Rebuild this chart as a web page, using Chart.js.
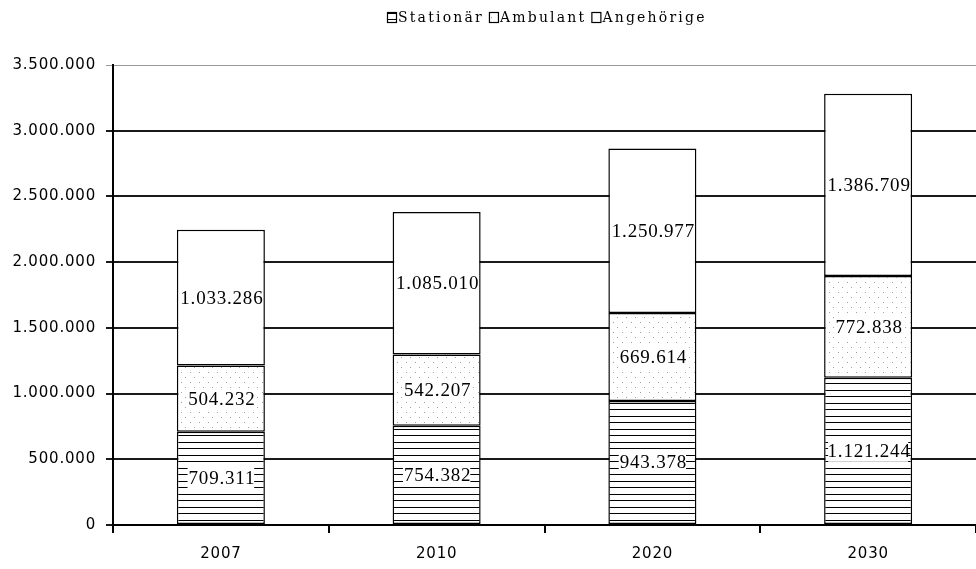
<!DOCTYPE html>
<html>
<head>
<meta charset="utf-8">
<script src="https://cdn.jsdelivr.net/npm/chart.js@4.4.1/dist/chart.umd.min.js"></script>
<style>
  html, body { margin: 0; padding: 0; background: #fff; }
  #wrap { width: 976px; height: 569px; }
</style>
</head>
<body>
<div id="wrap"><canvas id="chart" width="976" height="569"></canvas></div>
<script>
const years = ["2007", "2010", "2020", "2030"];
const seriesNames = ["Stationär", "Ambulant", "Angehörige"];
const stationaer = [709311, 754382, 943378, 1121244];
const ambulant = [504232, 542207, 669614, 772838];
const angehoerige = [1033286, 1085010, 1250977, 1386709];
const yMax = 3500000;
const yStep = 500000;

// German number format: 1.234.567
function fmt(v) {
  return String(Math.round(v)).replace(/\B(?=(\d{3})+(?!\d))/g, ".");
}

function makePattern(kind) {
  const c = document.createElement("canvas");
  const ctx = c.getContext("2d");
  if (kind === "lines") {
    c.width = 4; c.height = 13;
    ctx.fillStyle = "#fff";
    ctx.fillRect(0, 0, 4, 13);
    ctx.fillStyle = "#000";
    ctx.fillRect(0, 0, 4, 1);
    ctx.fillRect(0, 6, 4, 1);
  } else {
    c.width = 9; c.height = 10;
    ctx.fillStyle = "#fff";
    ctx.fillRect(0, 0, 9, 10);
    ctx.fillStyle = "#a0a0a0";
    ctx.fillRect(1, 2, 1, 1);
    ctx.fillRect(5, 7, 1, 1);
  }
  return ctx.createPattern(c, "repeat");
}

const fills = [makePattern("lines"), makePattern("dots"), "#fff"];

// labels in the middle of each segment, white box behind
const segmentLabels = {
  id: "segmentLabels",
  afterDatasetsDraw(chart) {
    const ctx = chart.ctx;
    ctx.save();
    ctx.font = "19px 'Liberation Serif'";
    ctx.letterSpacing = "0.8px";
    ctx.textAlign = "center";
    ctx.textBaseline = "middle";
    chart.data.datasets.forEach((ds, i) => {
      chart.getDatasetMeta(i).data.forEach((bar, j) => {
        const txt = fmt(ds.data[j]);
        const x = bar.x;
        const y = (bar.y + bar.base) / 2;
        const w = Math.min(ctx.measureText(txt).width, bar.width - 8);
        ctx.fillStyle = "#fff";
        ctx.fillRect(x - w / 2, y - 10, w, 21);
        ctx.fillStyle = "#000";
        ctx.fillText(txt, x + 1, y + 1);
      });
    });
    ctx.restore();
  }
};

const topLegend = {
  id: "topLegend",
  beforeDraw(chart) {
    chart.ctx.letterSpacing = "0.8px";
  },
  afterDraw(chart) {
    const ctx = chart.ctx;
    ctx.save();
    ctx.font = "14px 'DejaVu Serif'";
    ctx.letterSpacing = "2.2px";
    ctx.textBaseline = "middle";
    ctx.textAlign = "left";
    let x = 387;
    const y = 17;
    chart.data.datasets.forEach((ds) => {
      ctx.fillStyle = ds.backgroundColor;
      ctx.fillRect(x, y - 5, 9, 10);
      ctx.strokeStyle = "#000";
      ctx.lineWidth = 1.2;
      ctx.strokeRect(x + 0.5, y - 4.5, 9, 10);
      ctx.fillStyle = "#000";
      ctx.fillText(ds.label, x + 11, y + 1);
      x += 11 + ctx.measureText(ds.label).width + 5;
    });
    ctx.restore();
  }
};

const seriesValues = [stationaer, ambulant, angehoerige];

new Chart(document.getElementById("chart"), {
  type: "bar",
  data: {
    labels: years,
    datasets: seriesNames.map((name, i) => ({
      label: name,
      data: seriesValues[i],
      backgroundColor: fills[i],
      borderColor: "#000",
      borderWidth: 1.5,
      borderSkipped: false,
      barPercentage: 0.408,
      categoryPercentage: 1
    }))
  },
  options: {
    responsive: false,
    animation: false,
    devicePixelRatio: 1,
    layout: { padding: { top: 65, right: 0, bottom: 0, left: 0 } },
    plugins: {
      legend: { display: false },
      tooltip: { enabled: false }
    },
    scales: {
      x: {
        stacked: true,
        afterFit: (s) => { s.height = 44; },
        grid: { offset: true, drawOnChartArea: false, drawTicks: true, tickLength: 8, color: "#000", lineWidth: 2 },
        border: { color: "#000", width: 2 },
        ticks: { color: "#000", font: { family: "'DejaVu Sans'", size: 15 }, padding: 12 }
      },
      y: {
        stacked: true,
        min: 0,
        max: yMax,
        afterFit: (s) => { s.width = 113; },
        grid: {
          color: (c) => (c.tick && c.tick.value === yMax ? "#9a9a9a" : "#1a1a1a"),
          lineWidth: (c) => (c.tick && c.tick.value === yMax ? 1 : 2),
          tickLength: 7
        },
        border: { color: "#000", width: 2 },
        ticks: {
          stepSize: yStep,
          color: "#000",
          font: { family: "'DejaVu Sans'", size: 15 },
          padding: 10,
          callback: (v) => fmt(v)
        }
      }
    }
  },
  plugins: [segmentLabels, topLegend]
});
</script>
</body>
</html>
